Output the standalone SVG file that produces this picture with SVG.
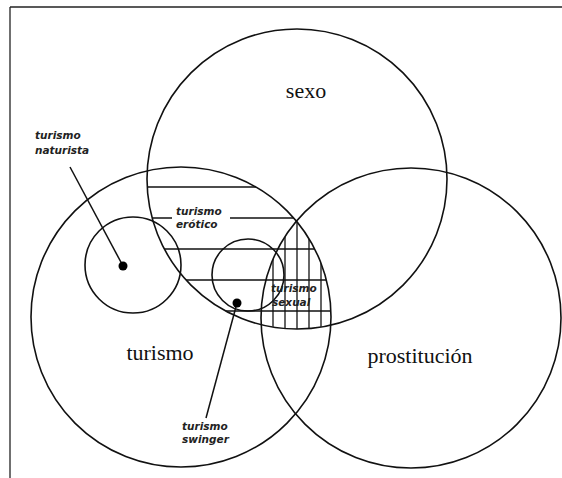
<svg xmlns="http://www.w3.org/2000/svg" width="562" height="478" viewBox="0 0 562 478">
<style>
.c{fill:none;stroke:#111;stroke-width:1.6}
.h{stroke:#111;stroke-width:1.3}
.big{font-family:"Liberation Serif",serif;font-size:22px;fill:#111}
.sm{font-family:"DejaVu Sans",sans-serif;font-size:10.5px;font-weight:bold;font-style:italic;fill:#222}
.pt{stroke:#111;stroke-width:1.5}
</style>
<defs>
<clipPath id="cSexo"><circle cx="297" cy="179" r="150"/></clipPath>
<clipPath id="cTur"><circle cx="181" cy="317" r="150"/></clipPath>
<clipPath id="cPro"><circle cx="411" cy="318" r="150"/></clipPath>
</defs>
<rect width="562" height="478" fill="#fff"/>
<g id="frame">
<line x1="10" y1="7" x2="562" y2="7" stroke="#222" stroke-width="1.3"/>
<line x1="10" y1="7" x2="10" y2="478" stroke="#222" stroke-width="1.3"/>
</g>
<g id="hatching">
<g clip-path="url(#cSexo)"><g clip-path="url(#cTur)">
<line class="h" x1="0" y1="187" x2="562" y2="187"/>
<line class="h" x1="0" y1="218" x2="562" y2="218"/>
<line class="h" x1="0" y1="249" x2="562" y2="249"/>
<line class="h" x1="0" y1="280" x2="562" y2="280"/>
<line class="h" x1="0" y1="311" x2="562" y2="311"/>
<g clip-path="url(#cPro)">
<line class="h" x1="273" y1="0" x2="273" y2="478"/>
<line class="h" x1="285" y1="0" x2="285" y2="478"/>
<line class="h" x1="297" y1="0" x2="297" y2="478"/>
<line class="h" x1="309" y1="0" x2="309" y2="478"/>
<line class="h" x1="321" y1="0" x2="321" y2="478"/>
</g>
</g></g>
</g>
<g id="sexo"><circle class="c" cx="297" cy="179" r="150"/><text class="big" x="306" y="98" text-anchor="middle">sexo</text></g>
<g id="turismo"><circle class="c" cx="181" cy="317" r="150"/><text class="big" x="160" y="360" text-anchor="middle">turismo</text></g>
<g id="prostitucion"><circle class="c" cx="411" cy="318" r="150"/><text class="big" x="420" y="363" text-anchor="middle">prostitución</text></g>
<g id="naturista">
<circle class="c" cx="133" cy="265" r="48" stroke-width="1.3"/>
<text class="sm" x="35" y="139">turismo</text>
<text class="sm" x="35" y="154">naturista</text>
</g>
<g id="swinger">
<circle class="c" cx="248" cy="275" r="36" stroke-width="1.3"/>
<text class="sm" x="182" y="430">turismo</text>
<text class="sm" x="182" y="443">swinger</text>
</g>
<g id="erotico">
<rect x="172" y="204" width="58" height="28" fill="#fff"/>
<text class="sm" x="176" y="215">turismo</text>
<text class="sm" x="176" y="228">erótico</text>
</g>
<g id="sexual">
<text class="sm" x="271" y="292">turismo</text>
<text class="sm" x="272" y="306">sexual</text>
</g>
<g id="connectors">
<line class="pt" x1="70" y1="167" x2="123" y2="266"/>
<circle cx="123" cy="266" r="4.5" fill="#000"/>
<line class="pt" x1="237" y1="303" x2="206" y2="418"/>
<circle cx="237" cy="303" r="4.5" fill="#000"/>
</g>
</svg>
